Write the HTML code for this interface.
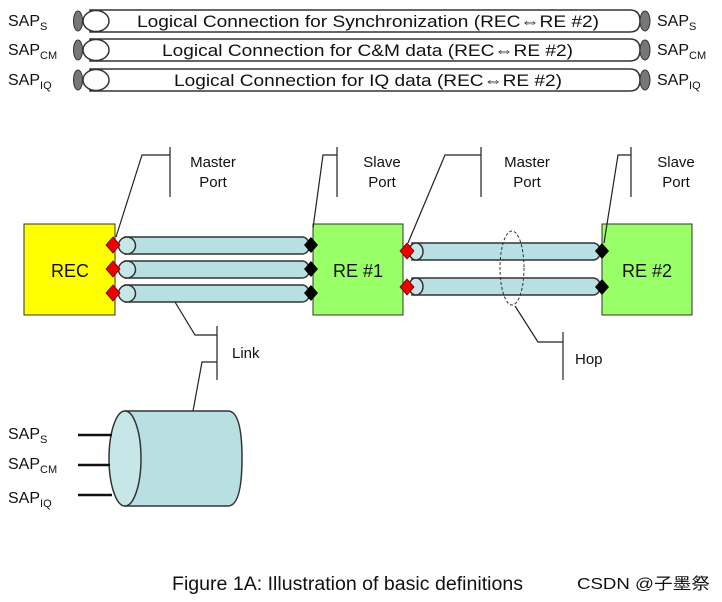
<!DOCTYPE html>
<html><head><meta charset="utf-8"><style>
body{margin:0;background:#fff}
svg{display:block}
text{font-family:"Liberation Sans",Arial,sans-serif;fill:#111}
</style></head><body>
<svg width="722" height="602" viewBox="0 0 722 602" xmlns="http://www.w3.org/2000/svg">
<g font-size="17">
<g id="r1">
<path d="M90 10 H630 Q640 10 640 21 Q640 32 630 32 H90 Z" fill="#fff" stroke="#333" stroke-width="1.5"/>
<ellipse cx="78" cy="21" rx="4.5" ry="10" fill="#777" stroke="#333"/>
<ellipse cx="96" cy="21" rx="13" ry="10.5" fill="#fff" stroke="#333" stroke-width="1.5"/>
<ellipse cx="645" cy="21" rx="5" ry="10" fill="#777" stroke="#333"/>
</g>
<use href="#r1" y="29"/>
<use href="#r1" y="59"/>
<text x="137" y="27" textLength="462" lengthAdjust="spacingAndGlyphs">Logical Connection for Synchronization (REC⇔RE #2)</text>
<text x="162" y="56" textLength="411" lengthAdjust="spacingAndGlyphs">Logical Connection for C&amp;M data (REC⇔RE #2)</text>
<text x="174" y="86" textLength="388" lengthAdjust="spacingAndGlyphs">Logical Connection for IQ data (REC⇔RE #2)</text>
</g>
<g font-size="16">
<text x="8" y="26">SAP<tspan font-size="11" dy="4">S</tspan></text>
<text x="8" y="55">SAP<tspan font-size="11" dy="4">CM</tspan></text>
<text x="8" y="85">SAP<tspan font-size="11" dy="4">IQ</tspan></text>
<text x="657" y="26">SAP<tspan font-size="11" dy="4">S</tspan></text>
<text x="657" y="55">SAP<tspan font-size="11" dy="4">CM</tspan></text>
<text x="657" y="85">SAP<tspan font-size="11" dy="4">IQ</tspan></text>
</g>
<rect x="24" y="224" width="91" height="91" fill="#ffff00" stroke="#333"/>
<rect x="313" y="224" width="90" height="91" fill="#99ff66" stroke="#333"/>
<rect x="602" y="224" width="90" height="91" fill="#99ff66" stroke="#333"/>
<g font-size="18">
<text x="70" y="277" text-anchor="middle">REC</text>
<text x="358" y="277" text-anchor="middle">RE #1</text>
<text x="647" y="277" text-anchor="middle">RE #2</text>
</g>
<g stroke="#333" stroke-width="1.5" fill="#b8dfe1">
<g id="lt">
<path d="M125 237 H302 Q308 237 310 246 Q308 254 302 254 H125 Z"/>
<circle cx="127" cy="245.5" r="8.5" fill="#c6e6e8"/>
</g>
<use href="#lt" y="24"/>
<use href="#lt" y="48"/>
<g id="rt">
<path d="M412 243 H593 Q599 243 601 251.5 Q599 260 593 260 H412 Z"/>
<ellipse cx="416" cy="251.5" rx="7" ry="8.5" fill="#c6e6e8"/>
</g>
<use href="#rt" y="35"/>
</g>
<g stroke="#600" stroke-width="0.8" fill="#ee0000">
<path id="dm" d="M113 237 l7 8 l-7 8 l-7 -8 Z"/>
<use href="#dm" y="24"/><use href="#dm" y="48"/>
<use href="#dm" x="294" y="6"/><use href="#dm" x="294" y="42"/>
</g>
<g fill="#000">
<path id="db" d="M311 237 l7 8 l-7 8 l-7 -8 Z"/>
<use href="#db" y="24"/><use href="#db" y="48"/>
<use href="#db" x="291" y="6"/><use href="#db" x="291" y="42"/>
</g>
<ellipse cx="512" cy="268" rx="12" ry="37" fill="none" stroke="#333" stroke-dasharray="3,2"/>
<g fill="none" stroke="#222" stroke-width="1.2">
<path d="M116 237 L142 155 H170 M170 147 V197"/>
<path d="M313 228 L323 155 H337 M337 147 V197"/>
<path d="M408 243 L445 155 H481 M481 147 V197"/>
<path d="M604 243 L618 155 H631 M631 147 V197"/>
<path d="M175 302 L195 335 H217 M217 326 V380 M193 411 L202 362 H217"/>
<path d="M515 306 L538 342 H563 M563 332 V380"/>
</g>
<g font-size="15" fill="#333">
<text x="213" y="167" text-anchor="middle">Master</text>
<text x="213" y="187" text-anchor="middle">Port</text>
<text x="382" y="167" text-anchor="middle">Slave</text>
<text x="382" y="187" text-anchor="middle">Port</text>
<text x="527" y="167" text-anchor="middle">Master</text>
<text x="527" y="187" text-anchor="middle">Port</text>
<text x="676" y="167" text-anchor="middle">Slave</text>
<text x="676" y="187" text-anchor="middle">Port</text>
<text x="232" y="358">Link</text>
<text x="575" y="364">Hop</text>
</g>
<path d="M125 411 H228 Q242 411 242 458 Q242 506 228 506 H125 Z" fill="#b8dfe1" stroke="#333" stroke-width="1.5"/>
<ellipse cx="125" cy="458.5" rx="16" ry="47.5" fill="#c6e6e8" stroke="#333" stroke-width="1.5"/>
<g stroke="#111" stroke-width="2.5">
<line x1="78" y1="435" x2="112" y2="435"/>
<line x1="78" y1="465" x2="110" y2="465"/>
<line x1="78" y1="495" x2="112" y2="495"/>
</g>
<g font-size="16">
<text x="8" y="439">SAP<tspan font-size="11" dy="4">S</tspan></text>
<text x="8" y="469">SAP<tspan font-size="11" dy="4">CM</tspan></text>
<text x="8" y="503">SAP<tspan font-size="11" dy="4">IQ</tspan></text>
</g>
<text x="172" y="590" font-size="19" fill="#222" textLength="351" lengthAdjust="spacingAndGlyphs">Figure 1A: Illustration of basic definitions</text>
<text x="577" y="589" font-size="16" fill="#999" textLength="133" lengthAdjust="spacingAndGlyphs" style="font-family:'Liberation Sans','Noto Sans CJK SC',sans-serif">CSDN @子墨祭</text>
</svg>
</body></html>
